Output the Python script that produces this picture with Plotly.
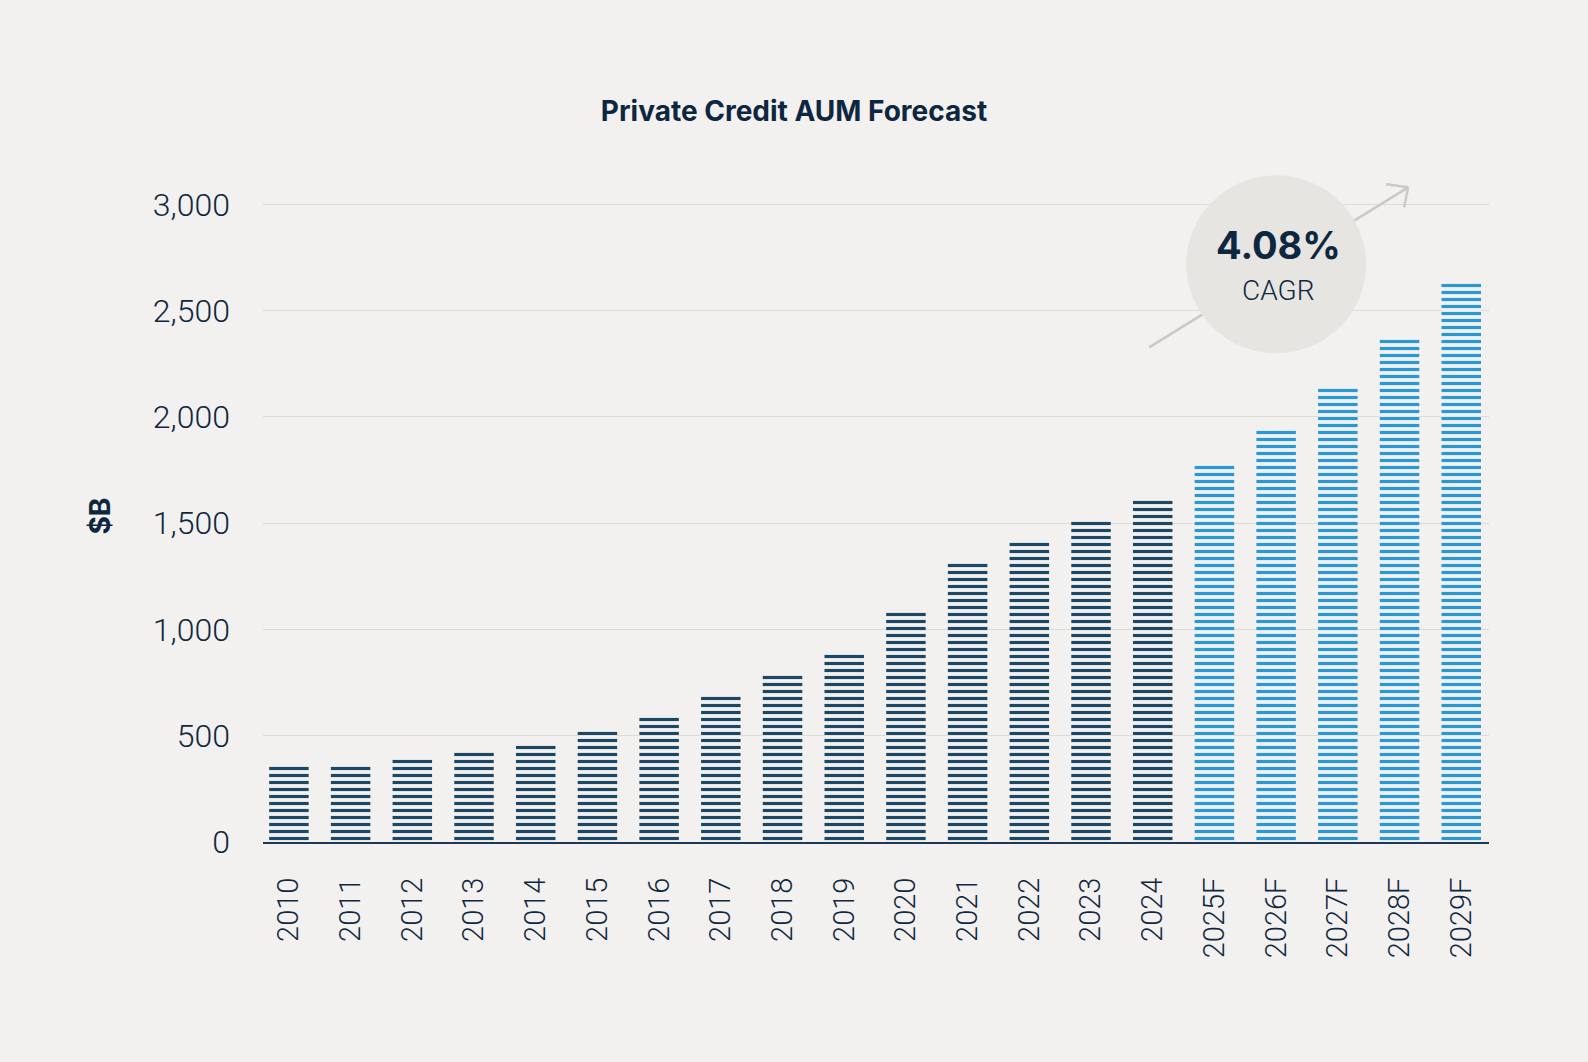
import plotly.graph_objects as go

# Private credit AUM, $B
years = ["2010", "2011", "2012", "2013", "2014", "2015", "2016", "2017", "2018", "2019",
         "2020", "2021", "2022", "2023", "2024", "2025F", "2026F", "2027F", "2028F", "2029F"]
aum = [358, 358, 393, 428, 458, 528, 590, 690, 790, 885,
       1085, 1315, 1415, 1510, 1610, 1775, 1945, 2140, 2370, 2630]
is_forecast = [y.endswith("F") for y in years]

cagr_text = "4.08%"
cagr_label = "CAGR"

BG = "#f2f1ef"
NAVY = "#1c4866"
BLUE = "#2699d6"
INK = "#10283f"

colors = [BLUE if f else NAVY for f in is_forecast]

X_RANGE = [-0.42, 19.45]
Y_RANGE = [0, 3030]  # a bit of headroom so the 3,000 gridline gets drawn

fig = go.Figure()
fig.add_trace(go.Bar(
    x=years, y=aum,
    marker=dict(
        color=BG,
        line=dict(width=0),
        pattern=dict(shape="-", size=7, solidity=0.45,
                     fgcolor=colors, bgcolor=BG, fgopacity=1, fillmode="replace"),
    ),
    hoverinfo="x+y",
))

# bubble sits over the 2026F column, near the 2,718 level (paper coords so it isn't clipped)
bubble_x = (years.index("2026F") - X_RANGE[0]) / (X_RANGE[1] - X_RANGE[0])
bubble_y = 2718 / Y_RANGE[1]
anchor = dict(xref="paper", yref="paper", xanchor=bubble_x, yanchor=bubble_y,
              xsizemode="pixel", ysizemode="pixel", layer="above")
arrow_style = dict(color="#cbc9c5", width=2.5)
shapes = [
    dict(type="line", x0=-127, y0=-83, x1=132, y1=77, line=arrow_style, **anchor),
    dict(type="line", x0=132, y0=77, x1=110, y1=80, line=arrow_style, **anchor),
    dict(type="line", x0=132, y0=77, x1=128, y1=57, line=arrow_style, **anchor),
    dict(type="circle", x0=-90, y0=-89, x1=90, y1=89,
         fillcolor="#e7e5e1", line=dict(width=0), **anchor),
]

fig.update_layout(
    width=1588, height=1062,
    paper_bgcolor=BG, plot_bgcolor=BG,
    margin=dict(l=263, r=99, t=198, b=220),
    bargap=0.36,
    showlegend=False,
    shapes=shapes,
    font=dict(family="Roboto, Arial, sans-serif", color=INK),
    title=dict(text="<b>Private Credit AUM Forecast</b>",
               x=0.5, xref="container", xanchor="center",
               y=1 - 111 / 1062, yref="container", yanchor="middle",
               font=dict(size=28, color="#0d2740", family="Inter, Roboto, sans-serif")),
    xaxis=dict(
        type="category",
        range=X_RANGE,
        tickangle=-90,
        tickfont=dict(size=29, color=INK, weight=300),
        showline=True, linecolor="#1c3a55", linewidth=2,
        showgrid=False, ticks="", ticklabelstandoff=22,
    ),
    yaxis=dict(
        range=Y_RANGE,
        tickvals=[0, 500, 1000, 1500, 2000, 2500, 3000],
        tickformat=",",
        tickfont=dict(size=32, color=INK, weight=300),
        showgrid=True, gridcolor="#dddbd7", gridwidth=1,
        zeroline=False, ticks="", ticklabelstandoff=32,
    ),
    annotations=[
        dict(text="<b>$B</b>", xref="paper", yref="paper",
             x=(99 - 263) / 1226, y=(842.5 - 517) / 644,
             xanchor="center", yanchor="middle",
             textangle=-90, showarrow=False,
             font=dict(size=28, color="#0d2740", family="Inter, Roboto, sans-serif")),
        dict(text="<b>" + cagr_text + "</b>", xref="paper", yref="paper",
             x=bubble_x, y=2808 / Y_RANGE[1], xanchor="center", yanchor="middle",
             showarrow=False, xshift=2,
             font=dict(size=38, color="#0d2740", family="Inter, Roboto, sans-serif")),
        dict(text=cagr_label, xref="paper", yref="paper",
             x=bubble_x, y=2597 / Y_RANGE[1], xanchor="center", yanchor="middle",
             showarrow=False, xshift=2,
             font=dict(size=28, color=INK, family="Roboto, sans-serif", weight=300)),
    ],
)

fig.write_html("out.html",
               config={"displayModeBar": False},
               post_script="document.body.style.margin='0';"
                           "document.body.style.background='#f2f1ef';")
